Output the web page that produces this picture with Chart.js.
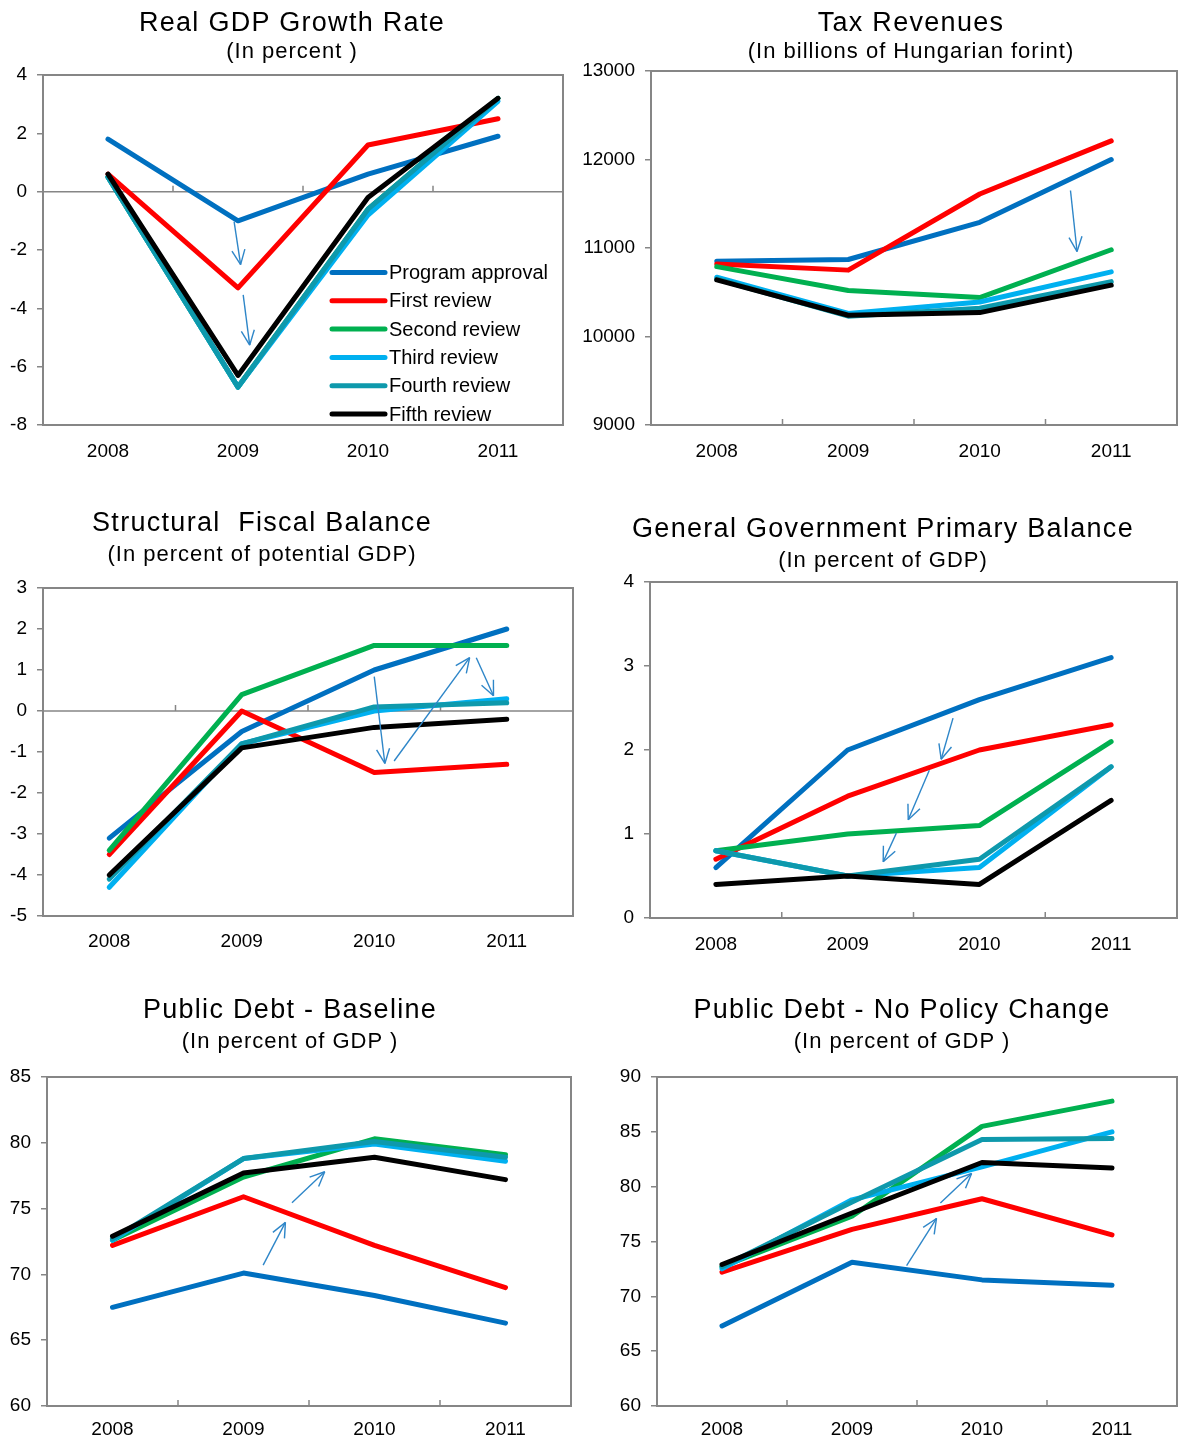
<!DOCTYPE html>
<html>
<head>
<meta charset="utf-8">
<script src="https://cdn.jsdelivr.net/npm/chart.js@4.4.0/dist/chart.umd.min.js"></script>
<style>
body{margin:0;background:#fff;width:1178px;height:1443px;position:relative;overflow:hidden;font-family:'Liberation Sans',Arial,sans-serif}
.t{position:absolute;color:#000;white-space:pre;line-height:1;transform:translateX(-50%)}
.t1{font-size:27px;letter-spacing:1.3px}
.t2{font-size:22px;letter-spacing:1px}
canvas{position:absolute}
</style>
</head>
<body>
<script>
// categories and series names
const years = ['2008', '2009', '2010', '2011'];
const reviewNames = ['Program approval', 'First review', 'Second review', 'Third review', 'Fourth review', 'Fifth review'];
const reviewColors = ['#0070C0', '#FF0000', '#00B050', '#00B0F0', '#0E99AC', '#000000'];

// Real GDP growth rate (percent)
const gdpProgram = [1.8, -1.0, 0.6, 1.9];
const gdpFirst   = [0.6, -3.3, 1.6, 2.5];
const gdpSecond  = [0.5, -6.7, -0.6, 3.2];
const gdpThird   = [0.5, -6.7, -0.8, 3.1];
const gdpFourth  = [0.5, -6.7, -0.6, 3.2];
const gdpFifth   = [0.6, -6.3, -0.2, 3.2];

// Tax revenues (billions of HUF)
const taxProgram = [10850, 10870, 11290, 12000];
const taxFirst   = [10820, 10750, 11610, 12210];
const taxSecond  = [10790, 10520, 10440, 10980];
const taxThird   = [10670, 10260, 10390, 10730];
const taxFourth  = [10650, 10230, 10320, 10620];
const taxFifth   = [10640, 10240, 10270, 10580];

// Structural fiscal balance (percent of potential GDP)
const sfbProgram = [-3.1, -0.5, 1.0, 2.0];
const sfbFirst   = [-3.5, 0.0, -1.5, -1.3];
const sfbSecond  = [-3.4, 0.4, 1.6, 1.6];
const sfbThird   = [-4.3, -0.8, 0.0, 0.3];
const sfbFourth  = [-4.1, -0.8, 0.1, 0.2];
const sfbFifth   = [-4.0, -0.9, -0.4, -0.2];

// General government primary balance (percent of GDP)
const pbProgram = [0.6, 2.0, 2.6, 3.1];
const pbFirst   = [0.7, 1.45, 2.0, 2.3];
const pbSecond  = [0.8, 1.0, 1.1, 2.1];
const pbThird   = [0.8, 0.5, 0.6, 1.8];
const pbFourth  = [0.8, 0.5, 0.7, 1.8];
const pbFifth   = [0.4, 0.5, 0.4, 1.4];

// Public debt - baseline (percent of GDP)
const dbProgram = [67.5, 70.1, 68.4, 66.3];
const dbFirst   = [72.2, 75.9, 72.2, 69.0];
const dbSecond  = [72.6, 77.4, 80.3, 79.1];
const dbThird   = [72.6, 78.8, 79.9, 78.6];
const dbFourth  = [72.7, 78.8, 80.1, 78.9];
const dbFifth   = [72.9, 77.7, 78.9, 77.2];

// Public debt - no policy change (percent of GDP)
const dnProgram = [67.3, 73.1, 71.5, 71.0];
const dnFirst   = [72.2, 76.1, 78.9, 75.6];
const dnSecond  = [72.7, 77.3, 85.5, 87.8];
const dnThird   = [72.5, 78.8, 81.8, 85.0];
const dnFourth  = [72.7, 78.6, 84.3, 84.4];
const dnFifth   = [72.9, 77.6, 82.2, 81.7];

// annotation arrows, [fromIndex, fromValue, toIndex, toValue]
const gdpArrows = [[0.97, -1.03, 1.02, -2.5], [1.04, -3.54, 1.09, -5.26]];
const taxArrows = [[2.69, 11650, 2.74, 10960]];
const sfbArrows = [[2.0, 0.84, 2.08, -1.28], [2.15, -1.22, 2.72, 1.3], [2.77, 1.3, 2.9, 0.37]];
const pbArrows  = [[1.8, 2.38, 1.71, 1.89], [1.62, 1.76, 1.46, 1.17], [1.37, 1.01, 1.27, 0.67]];
const dbArrows  = [[1.15, 70.7, 1.32, 73.95], [1.37, 75.44, 1.62, 77.8]];
const dnArrows  = [[1.42, 72.8, 1.65, 77.1], [1.68, 78.5, 1.92, 81.2]];

Chart.defaults.font.family = "'Liberation Sans', Arial, sans-serif";
Chart.defaults.color = '#000';

const panels = [
  {title: 'Real GDP Growth Rate', sub: '(In percent )', tx: 292, ty: 22, sy: 51,
   box: [0, 0, 580, 475], area: [43, 75, 563, 425], gap: 25,
   series: [gdpProgram, gdpFirst, gdpSecond, gdpThird, gdpFourth, gdpFifth],
   min: -8, max: 4, step: 2, zero: true, legend: true, arrows: gdpArrows},
  {title: 'Tax Revenues', sub: '(In billions of Hungarian forint)', tx: 911, ty: 22, sy: 51,
   box: [575, 0, 603, 475], area: [651, 71, 1177, 425], gap: 25,
   series: [taxProgram, taxFirst, taxSecond, taxThird, taxFourth, taxFifth],
   min: 9000, max: 13000, step: 1000, zero: false, legend: false, arrows: taxArrows},
  {title: 'Structural  Fiscal Balance', sub: '(In percent of potential GDP)', tx: 262, ty: 522, sy: 554,
   box: [0, 478, 590, 490], area: [43, 588, 573, 916], gap: 24,
   series: [sfbProgram, sfbFirst, sfbSecond, sfbThird, sfbFourth, sfbFifth],
   min: -5, max: 3, step: 1, zero: true, legend: false, arrows: sfbArrows},
  {title: 'General Government Primary Balance', sub: '(In percent of GDP)', tx: 883, ty: 528, sy: 560,
   box: [590, 478, 588, 490], area: [650, 582, 1177, 918], gap: 25,
   series: [pbProgram, pbFirst, pbSecond, pbThird, pbFourth, pbFifth],
   min: 0, max: 4, step: 1, zero: false, legend: false, arrows: pbArrows},
  {title: 'Public Debt - Baseline', sub: '(In percent of GDP )', tx: 290, ty: 1009, sy: 1041,
   box: [0, 970, 590, 473], area: [47, 1077, 571, 1406], gap: 22,
   series: [dbProgram, dbFirst, dbSecond, dbThird, dbFourth, dbFifth],
   min: 60, max: 85, step: 5, zero: false, legend: false, arrows: dbArrows},
  {title: 'Public Debt - No Policy Change', sub: '(In percent of GDP )', tx: 902, ty: 1009, sy: 1041,
   box: [590, 970, 588, 473], area: [657, 1077, 1177, 1406], gap: 22,
   series: [dnProgram, dnFirst, dnSecond, dnThird, dnFourth, dnFifth],
   min: 60, max: 90, step: 5, zero: false, legend: false, arrows: dnArrows}
];

function seg(ctx, x1, y1, x2, y2) {
  ctx.beginPath();
  ctx.moveTo(x1, y1);
  ctx.lineTo(x2, y2);
  ctx.stroke();
}

function drawArrow(ctx, x1, y1, x2, y2) {
  seg(ctx, x1, y1, x2, y2);
  const ang = Math.atan2(y2 - y1, x2 - x1);
  const len = 16, spread = 0.42;
  seg(ctx, x2, y2, x2 - len * Math.cos(ang - spread), y2 - len * Math.sin(ang - spread));
  seg(ctx, x2, y2, x2 - len * Math.cos(ang + spread), y2 - len * Math.sin(ang + spread));
}

// frame, zero line, category ticks, arrows and legend
const panelDecor = {
  id: 'panelDecor',
  beforeDatasetsDraw(chart, args, opts) {
    const ctx = chart.ctx, a = chart.chartArea;
    const x = chart.scales.x, y = chart.scales.y;
    ctx.save();
    ctx.strokeStyle = '#868686';
    let axisY = a.bottom;
    if (opts.zero) {
      axisY = y.getPixelForValue(0);
      ctx.lineWidth = 1.5;
      seg(ctx, a.left, axisY, a.right, axisY);
    }
    ctx.lineWidth = 1.5;
    for (let i = 0; i < years.length - 1; i++) {
      const px = x.getPixelForValue(i + 0.5);
      seg(ctx, px, axisY, px, axisY - 6);
    }
    ctx.lineWidth = 2;
    ctx.strokeRect(a.left, a.top, a.right - a.left, a.bottom - a.top);
    ctx.restore();
  },
  afterDatasetsDraw(chart, args, opts) {
    const ctx = chart.ctx, a = chart.chartArea;
    const x = chart.scales.x, y = chart.scales.y;
    ctx.save();
    ctx.strokeStyle = '#2E86C8';
    ctx.lineWidth = 1.4;
    (opts.arrows || []).forEach(ar => {
      drawArrow(ctx, x.getPixelForValue(ar[0]), y.getPixelForValue(ar[1]),
                x.getPixelForValue(ar[2]), y.getPixelForValue(ar[3]));
    });
    if (opts.legend) {
      const ds = chart.data.datasets;
      ctx.font = "20px 'Liberation Sans', Arial, sans-serif";
      ctx.textBaseline = 'middle';
      ctx.lineCap = 'round';
      ds.forEach((d, i) => {
        const yy = a.bottom - 11 - (ds.length - 1 - i) * 28.3;
        ctx.strokeStyle = d.borderColor;
        ctx.lineWidth = 5;
        seg(ctx, a.right - 231, yy, a.right - 178, yy);
        ctx.fillStyle = '#000';
        ctx.fillText(d.label, a.right - 174, yy + 1);
      });
    }
    ctx.restore();
  }
};

function addText(txt, cx, cy, cls, size) {
  const d = document.createElement('div');
  d.className = 't ' + cls;
  d.textContent = txt;
  d.style.left = cx + 'px';
  d.style.top = (cy - 0.49 * size) + 'px';
  document.body.appendChild(d);
}

function buildDatasets(series) {
  return series.map((vals, i) => ({
    label: reviewNames[i],
    data: vals,
    borderColor: reviewColors[i],
    backgroundColor: reviewColors[i],
    borderWidth: 5,
    pointRadius: 0,
    tension: 0,
    fill: false,
    borderCapStyle: 'round',
    borderJoinStyle: 'round',
    order: series.length - 1 - i
  }));
}

panels.forEach(p => {
  const [bx, by, bw, bh] = p.box;
  const [al, at, ar, ab] = p.area;
  const cv = document.createElement('canvas');
  cv.width = bw;
  cv.height = bh;
  cv.style.left = bx + 'px';
  cv.style.top = by + 'px';
  document.body.appendChild(cv);
  addText(p.title, p.tx, p.ty, 't1', 27);
  addText(p.sub, p.tx, p.sy, 't2', 22);
  new Chart(cv, {
    type: 'line',
    data: {labels: years, datasets: buildDatasets(p.series)},
    options: {
      responsive: false,
      animation: false,
      events: [],
      layout: {padding: {top: at - by, right: bx + bw - ar, left: 0, bottom: 0}},
      scales: {
        x: {
          offset: true,
          grid: {display: false},
          border: {display: false},
          ticks: {padding: p.gap - 18, font: {size: 19}, maxRotation: 0, autoSkip: false},
          afterFit: s => { s.height = by + bh - ab; }
        },
        y: {
          min: p.min,
          max: p.max,
          ticks: {stepSize: p.step, padding: 10, font: {size: 19}, callback: v => String(v)},
          grid: {drawOnChartArea: false, drawTicks: true, tickLength: 6, color: '#868686', lineWidth: 1.5},
          border: {display: false},
          afterFit: s => { s.width = al - bx; }
        }
      },
      plugins: {
        legend: {display: false},
        tooltip: {enabled: false},
        panelDecor: {zero: p.zero, legend: p.legend, arrows: p.arrows}
      }
    },
    plugins: [panelDecor]
  });
});
</script>
</body>
</html>
